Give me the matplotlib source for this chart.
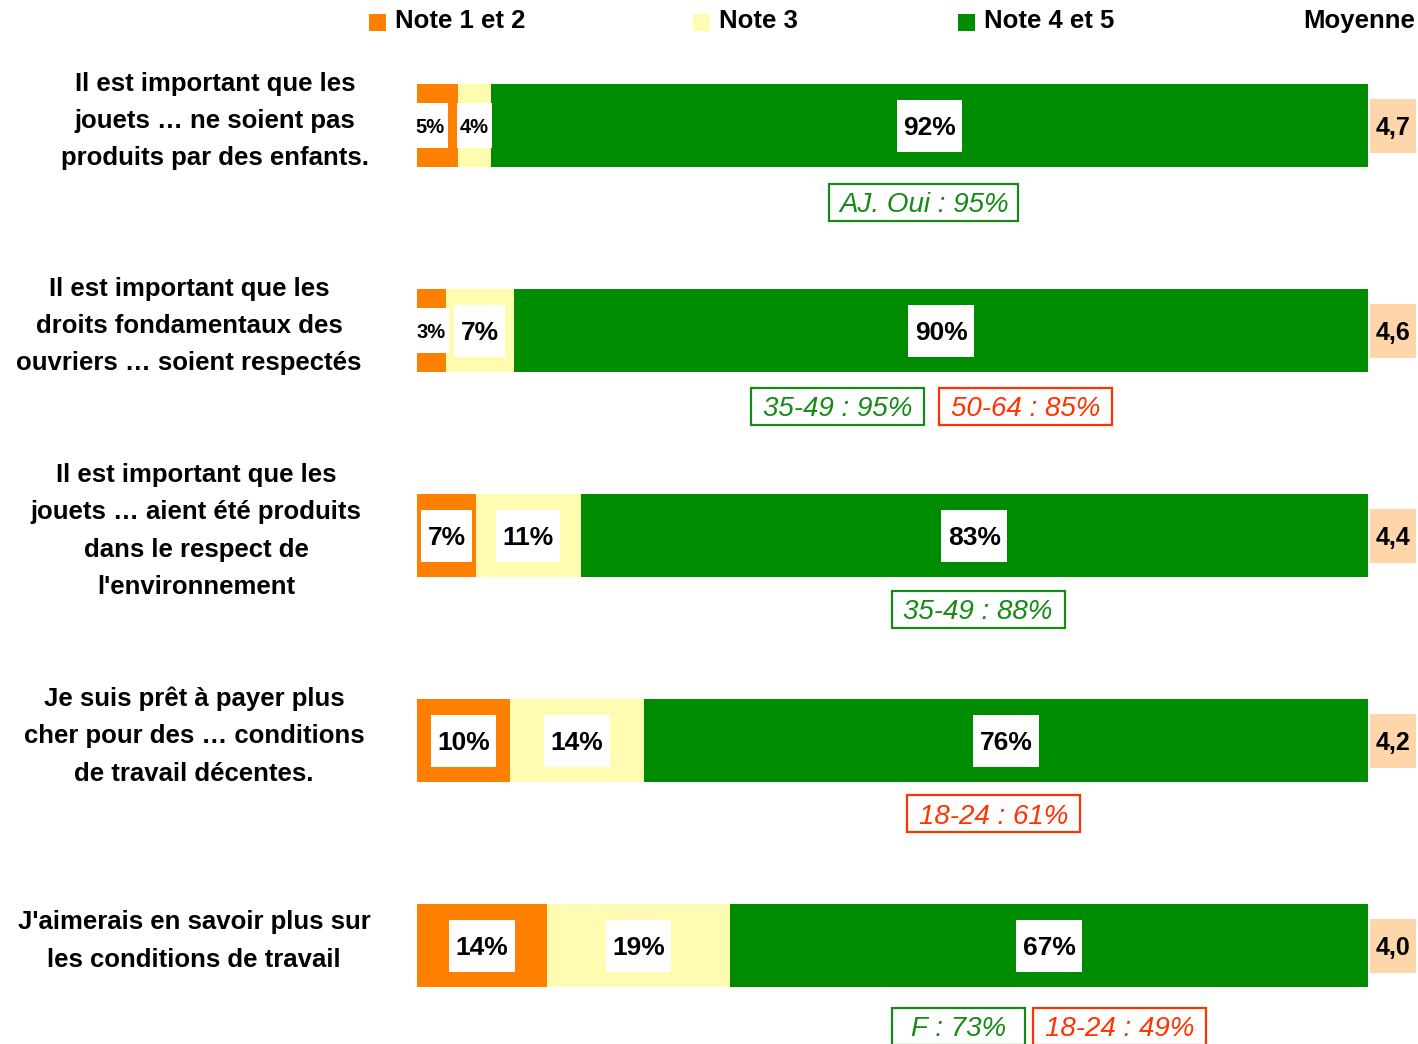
import matplotlib
matplotlib.use("Agg")
import matplotlib.pyplot as plt
from matplotlib.patches import Rectangle
import numpy as np

plt.rcParams['font.family'] = ['Liberation Sans', 'DejaVu Sans']

# ---------------- data ----------------
categories = [
    "Il est important que les\njouets … ne soient pas\nproduits par des enfants.",
    "Il est important que les\ndroits fondamentaux des\nouvriers … soient respectés",
    "Il est important que les\njouets … aient été produits\ndans le respect de\nl'environnement",
    "Je suis prêt à payer plus\ncher pour des … conditions\nde travail décentes.",
    "J'aimerais en savoir plus sur\nles conditions de travail",
]
note12 = [4.3, 3.0, 6.2, 9.8, 13.7]
note3 = [3.5, 7.2, 11.0, 14.1, 19.2]
note45 = [92.2, 89.8, 82.8, 76.1, 67.1]
labels12 = ["5%", "3%", "7%", "10%", "14%"]
labels3 = ["4%", "7%", "11%", "14%", "19%"]
labels45 = ["92%", "90%", "83%", "76%", "67%"]
moyenne = ["4,7", "4,6", "4,4", "4,2", "4,0"]
series_names = ["Note 1 et 2", "Note 3", "Note 4 et 5"]

# annotations: (row, text, kind, x-center in %)
annotations = [
    (0, "AJ. Oui : 95%", "pos", 53.3),
    (1, "35-49 : 95%", "pos", 44.2),
    (1, "50-64 : 85%", "neg", 64.0),
    (2, "35-49 : 88%", "pos", 59.0),
    (3, "18-24 : 61%", "neg", 60.6),
    (4, "F : 73%", "pos", 56.9),
    (4, "18-24 : 49%", "neg", 73.9),
]

# ---------------- style ----------------
C_ORANGE = "#FF8000"
C_YELLOW = "#FFFBB0"
C_GREEN = "#008C00"
C_PEACH = "#FFD5AA"
C_POS = "#168A16"
C_NEG = "#FF3300"
colors = [C_ORANGE, C_YELLOW, C_GREEN]
ann_box_w_px = [189, 173, 173, 173, 173, 133, 173]
label_nudge_px = {(0, 0): -7}     # (series, row) -> x shift in px

W, H = 1418, 1044
fig = plt.figure(figsize=(W / 100, H / 100), dpi=100)
ax = fig.add_axes([417 / W, 0, 951 / W, 1])
ax.set_xlim(0, 100)
y_top_px, spacing_px = 126, 205
ax.set_ylim((H - y_top_px) / spacing_px, -y_top_px / spacing_px)
ax.axis("off")
px_y = 1.0 / spacing_px          # data units per pixel (vertical)
px_x = 100.0 / 951               # data units per pixel (horizontal)
PT = 100 / 72.0                  # pixels per point


def cap_off(fs):
    """half cap-height in data units for a font size in points"""
    return 0.72 * fs * PT / 2 * px_y


ypos = np.arange(len(categories))
bar_h = 83 * px_y
left = np.zeros(len(categories))
series = [note12, note3, note45]
for vals, col in zip(series, colors):
    ax.barh(ypos, vals, left=left, height=bar_h, color=col, edgecolor="none", zorder=1)
    left += np.array(vals)

# moyenne boxes
ax.barh(ypos, 4.84, left=100.21, height=54 * px_y, color=C_PEACH, edgecolor="none",
        clip_on=False, zorder=1)
for i, m in enumerate(moyenne):
    ax.text(102.63, i + cap_off(18), m, ha="center", va="baseline", fontsize=18,
            fontweight="bold", zorder=3, clip_on=False)

# segment labels (boxes added after measurement)
boxed = []   # (text_obj, center_y, pad_x_px, height_px, face, edge, lw, fixed_w)
left = np.zeros(len(categories))
for s, (vals, labs) in enumerate(zip(series, [labels12, labels3, labels45])):
    for i, (v, lab) in enumerate(zip(vals, labs)):
        small = v < 5
        fs = 14.5 if small else 19
        xc = left[i] + v / 2 + label_nudge_px.get((s, i), 0) * px_x
        t = ax.text(xc, i + cap_off(fs), lab, ha="center", va="baseline",
                    fontsize=fs, fontweight="bold", zorder=3)
        boxed.append((t, i, 3 if small else 6.5, 45 if small else 52, "white",
                      "none", 0, None))
    left += np.array(vals)

# annotations
yoff = [76.5, 75.5, 73.5, 73, 80]
for k, (row, txt, kind, xc) in enumerate(annotations):
    col = C_POS if kind == "pos" else C_NEG
    yc = row + yoff[row] * px_y
    t = ax.text(xc, yc + cap_off(20), txt, ha="center", va="baseline",
                fontsize=20, style="italic", color=col, zorder=3, clip_on=False)
    boxed.append((t, yc, 10.5, 37, "white", col, 1.6, ann_box_w_px[k]))

# category labels
label_xpx = [215, 189, 196, 194, 194]
for i, (cat, xp) in enumerate(zip(categories, label_xpx)):
    ax.text((xp - 417) * px_x, i - 5 * px_y, cat, ha="center", va="center",
            fontsize=18.5, fontweight="bold", linespacing=1.7, zorder=3)

# legend
leg_sq_x = [369, 693, 958]
for xs, name, col in zip(leg_sq_x, series_names, colors):
    fig.patches.append(Rectangle((xs / W, 1 - 31 / H), 17 / W, 17 / H,
                                 transform=fig.transFigure, facecolor=col,
                                 edgecolor="none"))
    fig.text((xs + 26) / W, 1 - 21 / H, name, ha="left", va="center",
             fontsize=18.5, fontweight="bold")
fig.text(1415 / W, 1 - 21 / H, "Moyenne", ha="right", va="center",
         fontsize=18.5, fontweight="bold")

# measure texts and add boxes
fig.canvas.draw()
r = fig.canvas.get_renderer()
inv = ax.transData.inverted()
for t, yc, padx, hpx, face, edge, lw, fixed_w in boxed:
    bb = t.get_window_extent(renderer=r)
    cx_disp = (bb.x0 + bb.x1) / 2
    w_disp = fixed_w if fixed_w is not None else bb.width + 2 * padx
    x0d = inv.transform((cx_disp - w_disp / 2, 0))[0]
    x1d = inv.transform((cx_disp + w_disp / 2, 0))[0]
    hd = hpx * px_y
    rect = Rectangle((x0d, yc - hd / 2), x1d - x0d, hd, facecolor=face,
                     edgecolor=edge, linewidth=lw, zorder=2, clip_on=False)
    ax.add_patch(rect)

fig.savefig("out.png", dpi=100)
